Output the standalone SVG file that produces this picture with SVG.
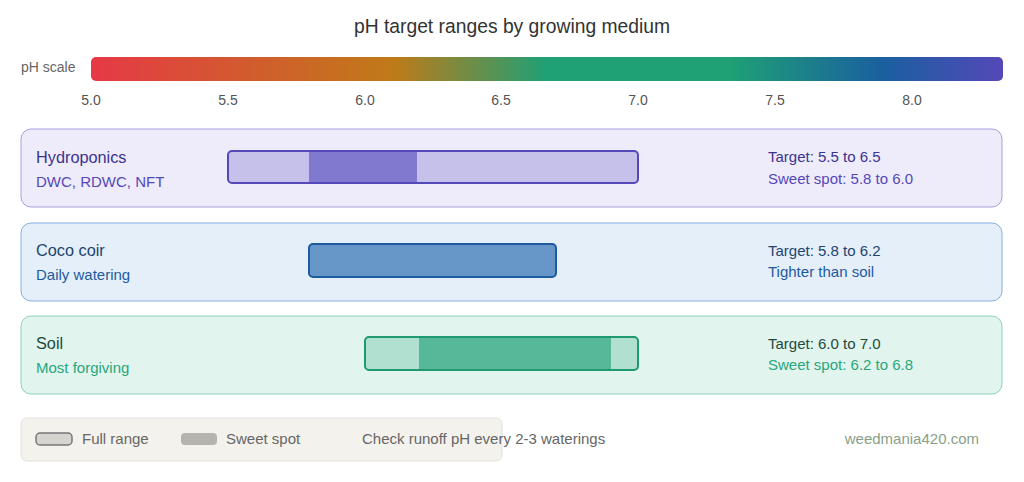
<svg xmlns="http://www.w3.org/2000/svg" width="1024" height="482" viewBox="0 0 1024 482">
<style>
text{font-family:"Liberation Sans",Arial,sans-serif}
.t{font-size:19.3px;fill:#333}
.tick{font-size:14px;fill:#555;text-anchor:middle}
.name{font-size:16.3px}
.sub{font-size:15px}
</style>
<defs>
<linearGradient id="g" x1="0" x2="1">
<stop offset="0" stop-color="#e63946"/>
<stop offset="0.33" stop-color="#c07a18"/>
<stop offset="0.5" stop-color="#1fa075"/>
<stop offset="0.7" stop-color="#1fa075"/>
<stop offset="0.87" stop-color="#1a5fa0"/>
<stop offset="1" stop-color="#5548b8"/>
</linearGradient>
</defs>
<rect width="1024" height="482" fill="#fff"/>
<text class="t" x="512" y="33" text-anchor="middle">pH target ranges by growing medium</text>
<g id="scale">
<text x="21" y="72" font-size="14" fill="#666">pH scale</text>
<rect x="91" y="57" width="912" height="24" rx="5" fill="url(#g)"/>
<text class="tick" x="91" y="105">5.0</text>
<text class="tick" x="228" y="105">5.5</text>
<text class="tick" x="365" y="105">6.0</text>
<text class="tick" x="501" y="105">6.5</text>
<text class="tick" x="638" y="105">7.0</text>
<text class="tick" x="775" y="105">7.5</text>
<text class="tick" x="912" y="105">8.0</text>
</g>
<g id="hydroponics">
<rect x="21" y="129" width="981" height="78" rx="10" fill="#eeecfb" stroke="#a89fe0"/>
<rect x="228" y="151" width="410" height="32" rx="4" fill="#c5c1ea" stroke="#5548b8" stroke-width="2"/>
<rect x="309" y="152" width="108" height="30" fill="#8079cf"/>
<text class="name" x="36" y="163" fill="#3b338f">Hydroponics</text>
<text class="sub" x="36" y="187" fill="#5548b8">DWC, RDWC, NFT</text>
<text class="sub" x="768" y="162" fill="#3b338f">Target: 5.5 to 6.5</text>
<text class="sub" x="768" y="184" fill="#5548b8">Sweet spot: 5.8 to 6.0</text>
</g>
<g id="coco">
<rect x="21" y="223" width="981" height="78" rx="10" fill="#e5effa" stroke="#8aaedb"/>
<rect x="309" y="244" width="247" height="33" rx="4" fill="#6697c8" stroke="#1d5a9e" stroke-width="2"/>
<text class="name" x="36" y="256" fill="#1d4470">Coco coir</text>
<text class="sub" x="36" y="280" fill="#1d5a9e">Daily watering</text>
<text class="sub" x="768" y="256" fill="#1d4470">Target: 5.8 to 6.2</text>
<text class="sub" x="768" y="277" fill="#1d5a9e">Tighter than soil</text>
</g>
<g id="soil">
<rect x="21" y="316" width="981" height="78" rx="10" fill="#e1f4ee" stroke="#8fd3bb"/>
<rect x="365" y="337" width="273" height="33" rx="4" fill="#b1e0d0" stroke="#1f9970" stroke-width="2"/>
<rect x="419" y="338" width="192" height="31" fill="#56b899"/>
<text class="name" x="36" y="349" fill="#1e4a3c">Soil</text>
<text class="sub" x="36" y="373" fill="#2aa67c">Most forgiving</text>
<text class="sub" x="768" y="349" fill="#1e4a3c">Target: 6.0 to 7.0</text>
<text class="sub" x="768" y="370" fill="#2aa67c">Sweet spot: 6.2 to 6.8</text>
</g>
<g id="legend">
<rect x="21" y="418" width="481" height="43" rx="6" fill="#f4f2ec" stroke="#e4e1d9"/>
<rect x="36" y="433" width="36" height="12" rx="4" fill="#d6d4cf" stroke="#777" stroke-width="1.5"/>
<text class="sub" x="82" y="444" fill="#666">Full range</text>
<rect x="181" y="433" width="36" height="12" rx="4" fill="#b5b4ae"/>
<text class="sub" x="226" y="444" fill="#666">Sweet spot</text>
<text class="sub" x="362" y="444" fill="#666">Check runoff pH every 2-3 waterings</text>
<text class="sub" x="979" y="444" fill="#8aa08a" text-anchor="end">weedmania420.com</text>
</g>
</svg>
